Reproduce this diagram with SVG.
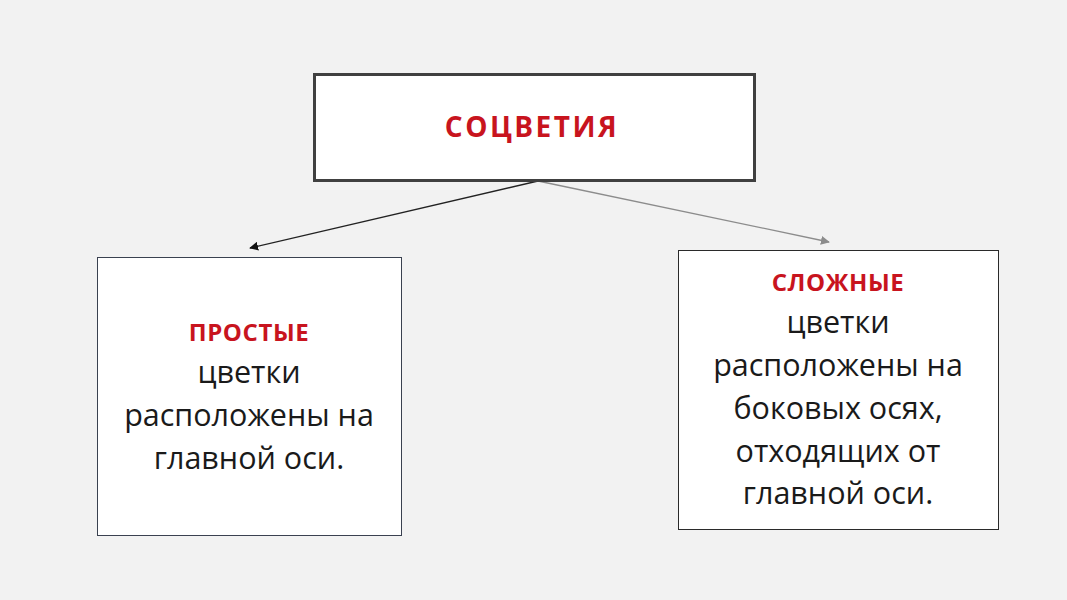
<svg xmlns="http://www.w3.org/2000/svg" width="1067" height="600" viewBox="0 0 1067 600">
<defs>
<style>
.box{fill:#ffffff}
.t{font-family:"Open Sans","Noto Sans","DejaVu Sans",sans-serif;text-anchor:middle}
.body{font-size:30.5px;fill:#1a1a1a}
.head{font-size:24px;font-weight:bold;fill:#c8141e;letter-spacing:0.6px}
</style>
<marker id="ab" viewBox="0 0 10 10" refX="9" refY="5" markerWidth="9" markerHeight="9" markerUnits="userSpaceOnUse" orient="auto"><path d="M0,0 L10,5 L0,10 z" fill="#111"/></marker>
<marker id="ag" viewBox="0 0 10 10" refX="9" refY="5" markerWidth="9" markerHeight="9" markerUnits="userSpaceOnUse" orient="auto"><path d="M0,0 L10,5 L0,10 z" fill="#8c8c8c"/></marker>
</defs>
<rect x="0" y="0" width="1067" height="600" fill="#f2f2f2"/>
<g id="connectors">
<line x1="538" y1="181" x2="250" y2="248" stroke="#222" stroke-width="1.3" marker-end="url(#ab)"/>
<line x1="538" y1="181" x2="829" y2="242" stroke="#8c8c8c" stroke-width="1.3" marker-end="url(#ag)"/>
</g>
<g id="root">
<rect class="box" x="314.5" y="74.5" width="440" height="106" stroke="#404040" stroke-width="3"/>
<text class="t" x="532" y="137" font-size="28" font-weight="bold" fill="#c8141e" letter-spacing="2.5">СОЦВЕТИЯ</text>
</g>
<g id="simple">
<rect class="box" x="97.5" y="257.5" width="304" height="278" stroke="#3a4150" stroke-width="1"/>
<text class="t head" x="249" y="341">ПРОСТЫЕ</text>
<text class="t body" x="249" y="383">цветки</text>
<text class="t body" x="249" y="426">расположены на</text>
<text class="t body" x="249" y="469">главной оси.</text>
</g>
<g id="complex">
<rect class="box" x="678.5" y="250.5" width="320" height="279" stroke="#2a2a2a" stroke-width="1"/>
<text class="t head" x="838" y="291">СЛОЖНЫЕ</text>
<text class="t body" x="838" y="333">цветки</text>
<text class="t body" x="838" y="376">расположены на</text>
<text class="t body" x="838" y="419">боковых осях,</text>
<text class="t body" x="838" y="462">отходящих от</text>
<text class="t body" x="838" y="504">главной оси.</text>
</g>
</svg>
